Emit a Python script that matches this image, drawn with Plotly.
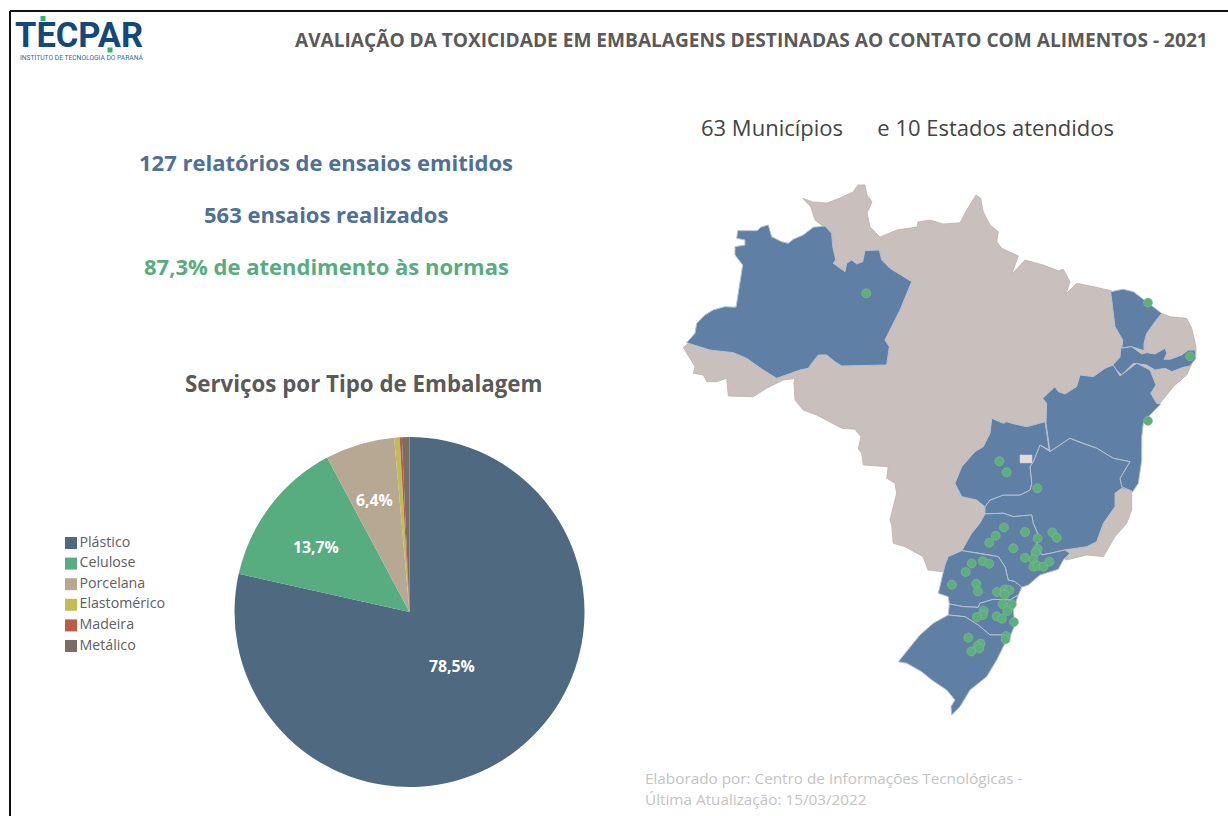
import plotly.graph_objects as go

# ---------- text ----------
TITLE = "AVALIAÇÃO DA TOXICIDADE EM EMBALAGENS DESTINADAS AO CONTATO COM ALIMENTOS - 2021"
MAP_TITLE = "63 Municípios \u00a0\u00a0\u00a0\u00a0\u00a0e 10 Estados atendidos"
KPI_1 = "127 relatórios de ensaios emitidos"
KPI_2 = "563 ensaios realizados"
KPI_3 = "87,3% de atendimento às normas"
PIE_TITLE = "Serviços por Tipo de Embalagem"
FOOT_1 = "Elaborado por: Centro de Informações Tecnológicas -"
FOOT_2 = "Última Atualização: 15/03/2022"
LOGO = "TECPAR"
LOGO_SUB = "INSTITUTO DE TECNOLOGIA DO PARANÁ"

# ---------- pie data ----------
categories = ["Plástico", "Celulose", "Porcelana", "Elastomérico", "Madeira", "Metálico"]
shares = [78.5, 13.7, 6.4, 0.5, 0.2, 0.7]
share_labels = ["78,5%", "13,7%", "6,4%"]
colors = ["#4F6980", "#57AD80", "#B7A893", "#C2BC55", "#BD5B47", "#7A6D63"]

# ---------- map data (longitude / latitude) ----------
OTHER_LON = [-73.98, -63.54, -63.39, -63.92, -64.25, -64.86, -64.08, -63.01, -62.01, -61.02, -60.64, -60.11, -59.95,
             -59.57, -59.95, -59.72, -58.96, -57.66, -56.14, -56.06, -55.14, -54.13, -52.85, -52.34, -51.63, -51.27,
             -51.08, -50.56, -49.93, -50.05, -49.67, -48.40, -48.91, -47.89, -46.49, -45.35, -44.97, -44.46, -44.76,
             -43.95, -42.42, -41.25, -39.88, -37.46, -36.82, -35.55, -35.17, -34.84, -34.84, -35.55, -36.57, -37.59,
             -39.11, -40.64, -39.75, -39.75, -40.13, -41.02, -41.91, -43.18, -44.71, -45.98, -49.80, -52.09, -54.00,
             -54.53, -55.30, -55.68, -57.05, -57.95, -58.07, -58.20, -58.07, -57.69, -57.82, -58.45, -58.33, -60.24,
             -60.36, -60.62, -60.41, -60.87, -61.88, -63.79, -64.82, -65.45, -65.53, -65.45, -66.34, -67.61, -68.63,
             -70.54, -70.66, -71.43, -72.19, -72.45, -73.21, -73.08]
OTHER_LAT = [-6.75, 1.15, 2.22, 2.62, 3.60, 4.22, 3.95, 3.87, 4.24, 4.68, 5.20, 5.20, 4.46,
             3.95, 3.14, 2.11, 1.37, 1.89, 2.11, 2.48, 2.62, 2.33, 2.42, 3.36, 4.46, 4.22,
             3.23, 2.26, 1.76, 1.03, 0.54, -0.02, -1.37, -0.32, -0.69, -1.11, -1.00, -1.91, -2.82,
             -2.03, -2.33, -2.60, -3.99, -4.24, -4.49, -4.61, -5.34, -6.69, -7.30, -8.77, -9.63, -10.86,
             -11.35, -16.49, -17.36, -18.70, -19.68, -20.66, -22.13, -22.01, -22.38, -21.64, -20.91, -22.38, -23.26,
             -23.19, -23.11, -22.13, -21.40, -21.15, -19.80, -19.44, -18.94, -17.47, -16.74, -16.37, -15.52, -15.39,
             -14.53, -14.22, -13.31, -12.77, -12.69, -11.72, -11.35, -10.61, -9.38, -9.03, -9.14, -9.75, -10.37,
             -10.32, -9.02, -9.27, -9.27, -8.77, -8.65, -8.16]

AM_LON = [-73.72, -73.08, -72.95, -72.32, -71.69, -70.79, -69.95, -69.78, -69.60, -69.44, -70.03, -70.03, -69.27,
          -69.27, -69.90, -69.82, -68.33, -68.07, -67.49, -67.23, -66.47, -65.96, -65.58, -64.82, -64.05, -63.16,
          -62.65, -62.57, -62.34, -62.53, -61.63, -61.50, -61.12, -60.74, -60.28, -60.11, -59.01, -58.83, -58.20,
          -56.54, -57.43, -58.58, -58.25, -58.45, -61.88, -62.40, -63.03, -63.67, -64.17, -64.43, -65.07, -65.83,
          -66.85, -67.87, -69.14, -70.16, -71.94]
AM_LAT = [-6.40, -5.71, -4.97, -4.36, -3.99, -3.75, -3.80, -2.77, -1.55, -0.69, 0.05, 0.66, 0.78,
          1.15, 1.28, 1.84, 1.84, 2.09, 2.26, 1.39, 1.03, 0.91, 1.20, 1.52, 2.09, 2.18,
          1.64, 0.66, -0.32, -0.56, -1.18, -0.56, -0.32, -0.61, -0.44, 0.37, 0.42, -0.32, -0.93,
          -1.91, -3.99, -6.20, -6.69, -8.04, -8.11, -7.80, -7.30, -7.30, -7.91, -8.28, -8.41, -8.65,
          -9.02, -8.41, -7.55, -7.13, -6.94]

CE_LON = [-41.35, -40.39, -39.62, -38.48, -37.46, -37.97, -38.60, -38.81, -38.81, -39.75, -40.51, -40.43, -41.02, -41.15]
CE_LAT = [-2.65, -2.47, -2.65, -3.46, -4.24, -4.86, -5.71, -6.44, -6.99, -6.69, -6.81, -6.20, -5.22, -4.24]

PE_LON = [-40.59, -39.75, -38.98, -38.60, -37.97, -37.20, -37.07, -37.28, -36.82, -35.93, -35.42, -34.91, -34.84,
          -35.30, -35.81, -36.69, -37.20, -37.97, -38.60, -39.62, -40.51, -41.27, -40.64]
PE_LAT = [-6.81, -6.69, -7.23, -7.13, -7.23, -6.81, -7.18, -7.62, -7.62, -7.30, -6.94, -6.94, -7.55,
          -8.11, -8.21, -8.53, -8.28, -8.41, -8.04, -7.91, -8.77, -8.11, -7.47]

BA_LON = [-46.54, -45.60, -45.35, -44.84, -43.95, -43.69, -42.68, -41.78, -41.15, -40.64, -39.36, -38.35, -37.89,
          -38.30, -37.84, -37.53, -38.48, -38.86, -38.98, -38.98, -39.24, -39.67, -40.51, -40.64, -39.88, -41.15,
          -42.42, -43.82, -44.46, -45.98, -46.11, -46.29, -46.24]
BA_LAT = [-10.49, -9.63, -10.00, -10.17, -9.63, -8.77, -8.90, -8.28, -8.04, -8.85, -7.91, -8.41, -9.51,
          -10.12, -10.86, -10.91, -11.84, -12.33, -13.31, -15.02, -16.74, -17.36, -16.99, -16.37, -15.15, -14.90,
          -14.16, -13.68, -13.43, -14.41, -13.55, -12.33, -10.86]

GO_LON = [-50.43, -49.55, -49.29, -48.91, -47.76, -47.00, -46.36, -46.19, -46.04, -46.75, -47.00, -47.26, -47.51,
          -47.38, -47.51, -48.27, -49.55, -50.56, -50.95, -51.58, -52.72, -53.24, -52.72, -51.71, -51.08, -50.56]
GO_LAT = [-11.96, -12.33, -12.21, -12.33, -12.58, -12.38, -12.21, -13.31, -14.29, -13.92, -14.53, -15.15, -15.52,
          -16.74, -17.23, -17.60, -17.60, -17.97, -18.46, -17.97, -17.72, -16.74, -15.52, -14.41, -14.05, -13.06]

DF_LON = [-48.27, -47.36, -47.36, -48.27]
DF_LAT = [-14.66, -14.66, -15.24, -15.24]

MG_LON = [-45.98, -44.46, -43.82, -42.42, -41.15, -39.88, -40.64, -40.51, -39.67, -40.51, -41.02, -41.02, -41.91,
          -42.04, -42.42, -43.18, -44.84, -45.98, -46.62, -47.00, -46.88, -47.26, -47.38, -48.79, -49.55, -50.95,
          -50.95, -50.56, -49.55, -48.27, -47.51, -47.38, -47.51, -47.26, -47.00, -46.75]
MG_LAT = [-14.41, -13.43, -13.68, -14.16, -14.90, -15.15, -16.37, -16.99, -17.36, -17.11, -17.47, -18.46, -19.68,
          -20.02, -21.03, -21.40, -21.64, -21.89, -22.01, -21.27, -20.54, -19.68, -19.07, -19.19, -18.94, -18.99,
          -18.46, -17.97, -17.60, -17.60, -17.23, -16.74, -15.52, -15.15, -14.53, -13.92]

SP_LON = [-50.95, -49.55, -48.79, -47.38, -47.26, -46.88, -47.00, -46.62, -45.98, -44.84, -44.46, -44.97, -45.35,
          -46.75, -47.64, -48.14, -48.66, -49.17, -49.42, -49.93, -51.33, -52.72, -51.96, -51.33]
SP_LAT = [-18.99, -18.94, -19.19, -19.07, -19.68, -20.54, -21.27, -22.01, -21.89, -21.64, -21.89, -22.38, -23.06,
          -23.48, -24.22, -24.38, -23.97, -23.85, -22.87, -22.13, -21.89, -21.69, -20.41, -19.68]

PR_LON = [-52.72, -51.33, -49.93, -49.42, -49.17, -48.66, -48.14, -48.40, -49.04, -50.31, -51.33, -51.46, -52.60,
          -53.67, -53.75, -54.51, -54.25, -54.00, -53.75]
PR_LAT = [-21.69, -21.89, -22.13, -22.87, -23.85, -23.97, -24.38, -24.95, -25.32, -25.27, -25.56, -25.86, -25.81,
          -25.61, -25.08, -24.83, -23.85, -22.74, -22.13]

SC_LON = [-53.67, -52.60, -51.46, -51.33, -50.31, -49.04, -48.40, -48.79, -48.66, -49.04, -49.67, -50.56, -51.46,
          -52.47, -53.75]
SC_LAT = [-25.61, -25.81, -25.86, -25.56, -25.27, -25.32, -24.95, -26.05, -27.16, -28.02, -27.89, -27.89, -27.16,
          -26.55, -26.42]

RS_LON = [-53.75, -52.47, -51.46, -50.56, -49.67, -49.17, -49.42, -50.05, -50.82, -52.09, -52.85, -53.49, -53.54,
          -53.24, -53.87, -55.01, -55.78, -56.92, -57.56, -56.92, -55.91, -54.89]
RS_LAT = [-26.42, -26.55, -27.16, -27.89, -27.89, -28.13, -28.50, -29.73, -30.96, -31.94, -33.16, -33.77, -33.16,
          -32.67, -31.94, -31.20, -30.59, -29.97, -29.86, -29.12, -27.89, -27.03]

CITY_LON = [-49.50, -50.13, -50.62, -47.89, -46.93, -45.81, -45.47, -48.78, -46.93, -47.08, -47.89, -47.26, -47.26,
            -46.93, -46.49, -46.03, -51.96, -51.12, -50.62, -52.42, -53.47, -51.61, -51.48, -50.03, -49.42, -49.09,
            -49.45, -49.60, -49.09, -48.89, -49.24, -51.05, -51.12, -51.56, -50.06, -49.65, -48.73, -52.22, -49.34,
            -49.37, -51.28, -51.51, -51.38, -51.99, -49.85, -49.29, -46.95, -38.50, -35.29, -38.50, -60.01]
CITY_LAT = [-19.98, -20.59, -21.11, -20.32, -20.79, -20.35, -20.74, -21.52, -21.57, -21.82, -22.21, -22.31, -22.87,
            -22.82, -22.87, -22.50, -22.63, -22.46, -22.65, -23.26, -24.20, -24.12, -24.69, -24.73, -24.54, -24.59,
            -24.93, -25.62, -25.81, -25.64, -26.13, -26.11, -26.43, -26.57, -26.52, -26.70, -26.94, -28.09, -27.97,
            -28.22, -28.53, -28.68, -28.88, -29.10, -15.12, -15.93, -17.10, -3.45, -7.40, -12.15, -2.77]

served_states = {
    "Amazonas": (AM_LON, AM_LAT),
    "Ceará": (CE_LON, CE_LAT),
    "Pernambuco": (PE_LON, PE_LAT),
    "Bahia": (BA_LON, BA_LAT),
    "Minas Gerais": (MG_LON, MG_LAT),
    "Goiás": (GO_LON, GO_LAT),
    "São Paulo": (SP_LON, SP_LAT),
    "Paraná": (PR_LON, PR_LAT),
    "Santa Catarina": (SC_LON, SC_LAT),
    "Rio Grande do Sul": (RS_LON, RS_LAT),
}

GREY = "#C9BFBC"
BLUE = "#5F7FA5"
BLUE_TXT = "#4F7099"
GREEN = "#5DB07C"
DARK = "#5A5A5A"
W, H = 1228, 816


def closed(seq):
    return list(seq) + [seq[0]]


fig = go.Figure()

# map
fig.add_trace(go.Scatter(x=closed(OTHER_LON), y=closed(OTHER_LAT), mode="lines", fill="toself", fillcolor=GREY,
                         line=dict(color="#BDB3B0", width=0.8), name="Outros", hoverinfo="name",
                         xaxis="x", yaxis="y", showlegend=False))
for state, (lon, lat) in served_states.items():
    fig.add_trace(go.Scatter(x=closed(lon), y=closed(lat), mode="lines", fill="toself", fillcolor=BLUE,
                             line=dict(color="#B4C2D3", width=1), name=state, hoverinfo="name",
                             xaxis="x", yaxis="y", showlegend=False))
fig.add_trace(go.Scatter(x=closed(DF_LON), y=closed(DF_LAT), mode="lines", fill="toself", fillcolor="#E3DCD9",
                         line=dict(color="#E3DCD9", width=0.5), name="Distrito Federal", hoverinfo="name",
                         xaxis="x", yaxis="y", showlegend=False))
fig.add_trace(go.Scatter(x=CITY_LON, y=CITY_LAT, mode="markers", name="Municípios", hoverinfo="x+y",
                         marker=dict(size=9, color=GREEN, line=dict(color="rgba(130,190,150,0.6)", width=1)),
                         xaxis="x", yaxis="y", showlegend=False))

# pie
fig.add_trace(go.Pie(labels=categories, values=shares, textinfo="none",
                     marker=dict(colors=colors, line=dict(width=0)), sort=False, direction="clockwise", rotation=0,
                     domain=dict(x=[233 / W, 586 / W], y=[(H - 787) / H, (H - 437) / H]), showlegend=False))

# legend drawn as a category axis
fig.add_trace(go.Scatter(x=[0] * len(categories), y=categories, mode="markers+text", text=categories,
                         textposition="middle right", textfont=dict(family="Open Sans", size=14.2, color="#606060"),
                         marker=dict(size=12, symbol="square", color=colors), hoverinfo="text",
                         xaxis="x2", yaxis="y2", showlegend=False, cliponaxis=False))

axis_off = dict(visible=False, showgrid=False, zeroline=False, fixedrange=True)
fig.update_layout(
    width=W, height=H, autosize=False,
    margin=dict(l=0, r=0, t=0, b=0),
    paper_bgcolor="white", plot_bgcolor="white",
    xaxis=dict(domain=[670 / W, 1210 / W], range=[-74.99, -33.77], **axis_off),
    yaxis=dict(domain=[(H - 730) / H, (H - 170) / H], range=[-34.88, 6.30], **axis_off),
    xaxis2=dict(domain=[60 / W, 200 / W], range=[-11, 129], **axis_off),
    yaxis2=dict(domain=[(H - 656.3) / H, (H - 532.7) / H], type="category", categoryorder="array",
                categoryarray=categories, range=[5.5, -0.5], **axis_off),
)


def label(text, x, y, size, color, anchor="left", family="Open Sans", bold=False):
    fig.add_annotation(text=f"<b>{text}</b>" if bold else text, x=x / W, y=1 - y / H, xref="paper", yref="paper",
                       xanchor=anchor, yanchor="middle", showarrow=False,
                       font=dict(family=family, size=size, color=color))


label(TITLE, 293, 40, 19.1, DARK, bold=True)
label(MAP_TITLE, 699, 127, 22, "#444444")
label(KPI_1, 326, 162, 22, BLUE_TXT, "center", bold=True)
label(KPI_2, 326, 214, 22, BLUE_TXT, "center", bold=True)
label(KPI_3, 326, 266, 22, "#57AD80", "center", bold=True)
label(PIE_TITLE, 363, 383, 22.3, DARK, "center", bold=True)
label(FOOT_1, 643, 778, 15.3, "#C4C4C4")
label(FOOT_2, 643, 799, 15.3, "#C4C4C4")
label(LOGO, 13, 35, 34.5, "#12487B", family="Roboto", bold=True)
label(LOGO_SUB, 18, 58, 6.7, "#3D6A94", family="Roboto")
for text, px, py in zip(share_labels, [452, 316, 374], [666, 547, 500]):
    label(text, px, py, 15.8, "white", "center", bold=True)

# frame and logo accents
fig.add_shape(type="line", xref="paper", yref="paper", x0=10 / W, x1=10 / W, y0=0, y1=1 - 11 / H,
              line=dict(color="#111111", width=2))
fig.add_shape(type="line", xref="paper", yref="paper", x0=10 / W, x1=1, y0=1 - 11 / H, y1=1 - 11 / H,
              line=dict(color="#111111", width=2))
for cx, cy in [(43, 18.5), (110, 50)]:
    fig.add_shape(type="rect", xref="paper", yref="paper", x0=(cx - 2.5) / W, x1=(cx + 2.5) / W,
                  y0=1 - (cy + 2.5) / H, y1=1 - (cy - 2.5) / H, line=dict(width=0), fillcolor="#2FB573")

fig.write_html("out.html", config=dict(displayModeBar=False),
               post_script="document.body.style.margin='0';document.documentElement.style.overflow='hidden';")
